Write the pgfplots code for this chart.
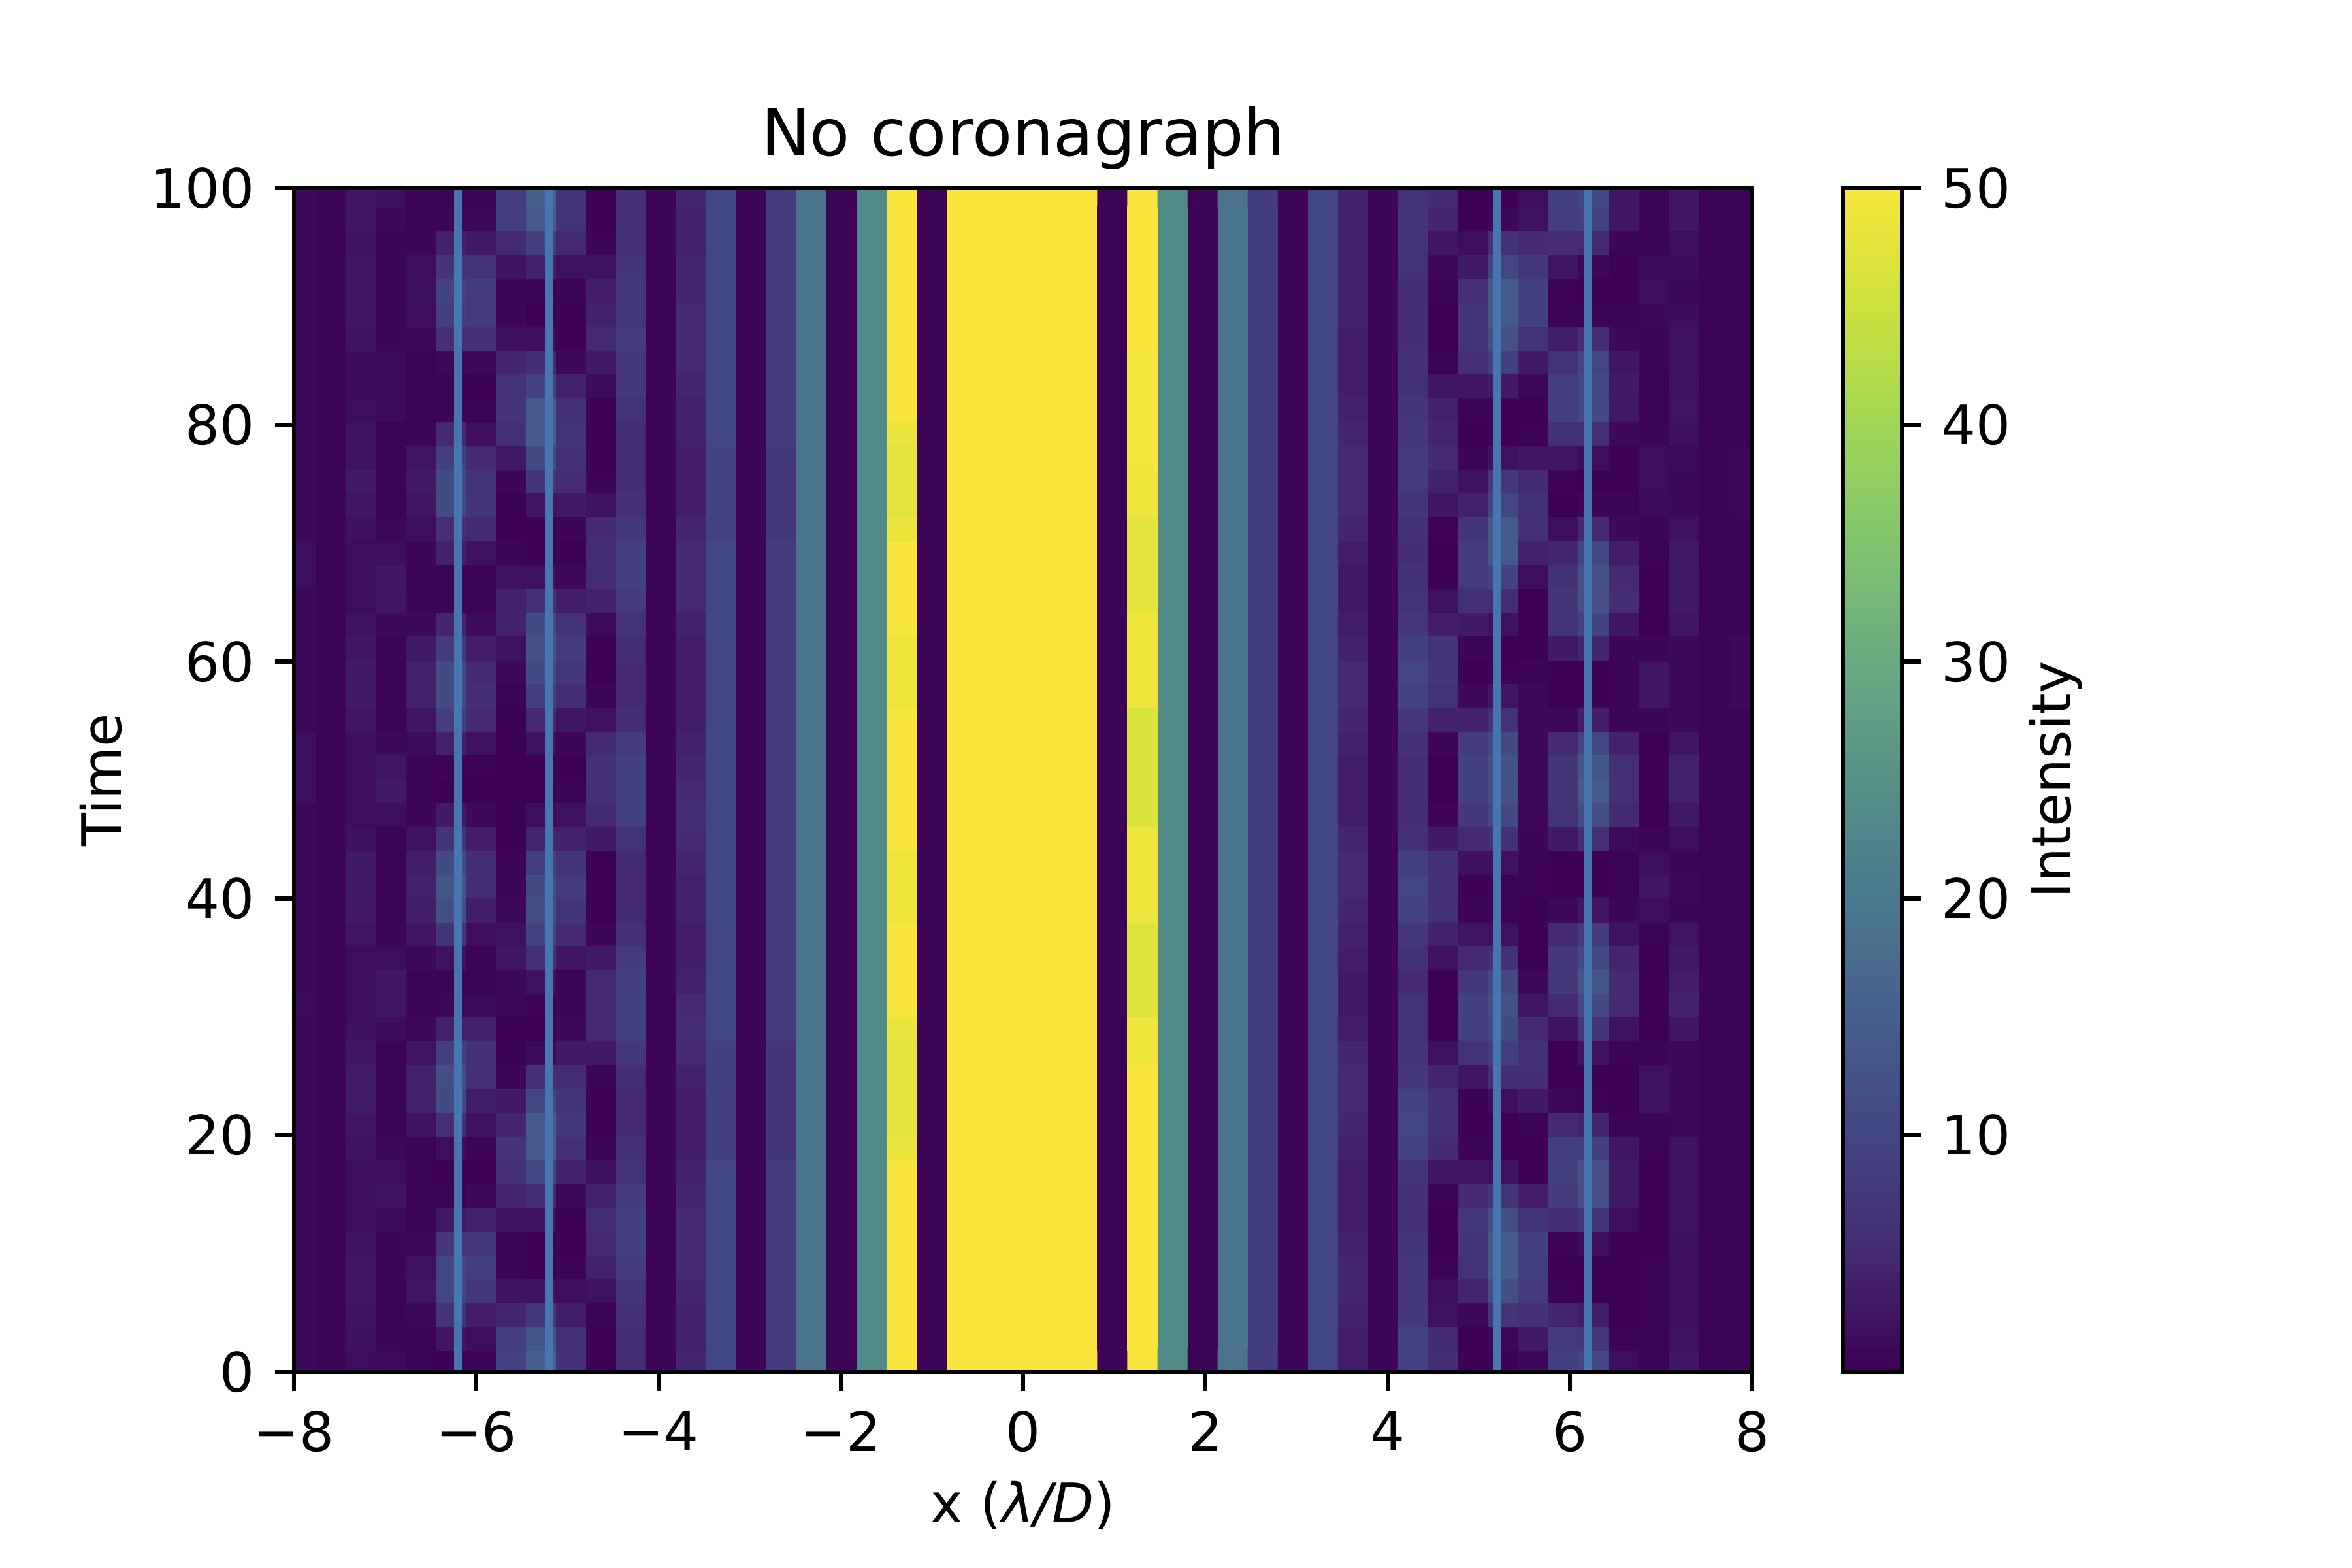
\documentclass[border=0pt]{standalone}
\usepackage{fontspec}
\setmainfont{DejaVu Sans}
\usepackage{pgfplots}
\usepackage{pgfplotstable}
\pgfplotsset{compat=1.18}
% one line per image column (x = k*0.33, k=-24..24); values top row to bottom row
\pgfplotstableread[header=false]{
1 1 1 1 1 1 1 1 1 1  1 1 1 1 1 1.5 1.5 1 1 1  1 1 1 1.7 1.7 1.7 1 1 1 1  1 1 1 1 1.2 1 1 1 1 1  1 1 1 1 1 1 1 1 1 1
.4 .4 .4 .4 .4 .4 .4 .4 .4 .4  .4 .4 .4 .4 .4 .4 .4 .4 .4 .4  .4 .4 .4 .4 .4 .4 .4 .4 .4 .4  .4 .4 .4 .4 .4 .4 .4 .4 .4 .4  .4 .4 .4 .4 .4 .4 .4 .4 .4 .4
2.5 2.5 2 2.5 2.5 2.5 2 1.3 1.3 1.5  2 2 3 2.5 1.8 1.5 1.5 1.5 2 2.5  3 3 2.3 1.5 1.5 1.5 1.5 1.8 3 3  2.8 2.3 1.5 1.5 1.5 1.8 2.5 3.2 3.2 2.3  2 1.5 1.5 1.5 2 2.3 2.3 2 1.8 1.5
1.8 1 .7 .7 .7 .7 .7 1.3 1.3 1.2  .4 .4 .4 .4 .8 1.5 2.5 2.5 1 .4  .4 .4 .4 1 2.5 3 1.5 .5 .3 .3  .3 .7 1.5 2.5 2.5 1.3 .4 .4 .4 .4  1 1.5 2 1.2 .6 .6 .5 .5 .6 1.2
.3 .3 .6 1.5 1.8 1.5 .8 .3 .3 .3  .6 2.3 3 2.5 1.5 .6 .3 .5 1 3  4 4 2.5 1.2 .4 .4 .6 2 3.5 4  3.8 2.5 1 .5 .5 .8 2.3 4 4 2  .5 .3 .4 .4 .8 2 2.3 1 .5 .3
.3 .7 4 7 9.5 9 6 .8 .3 .5  5 9 11 11 6 4 .3 .5 4.5 8  11 11 9 4 .4 .2 3 7 11 13  11.5 7 2 .4 .8 4 8.5 11.5 11 6  1.5 .2 .3 3 7.5 10 10 7 2.5 .2
.4 1 3 6.5 8 8 6 1 .2 .3  1.5 5 6.5 7 5 2 .3 .3 1.3 3.5  5 5.5 5 2 .3 .2 1 3.5 5.5 5.5  3.5 1.5 .5 .3 1.2 4 6 6 3.5 2  .4 .2 .8 4 7.5 8.5 7.5 3.5 1.5 .3
8.5 8.5 5 2 .6 .6 1.7 4.5 6.5 7  6 3 .6 .2 .2 .5 2 4 4 2  .8 .3 .2 .2 .1 .1 .2 .2 .3 .6  1 2 2.5 1 .8 .2 .2 .6 3 4.5  7 6 4.5 2 .4 .4 2 4.5 8.5 9.5
15 14 9 4 .4 .1 1.5 5.5 9.5 14  14.5 11 7 2.5 .2 .2 2 6 11 12  11 8.5 5 2 .2 .1 1.5 4.5 8.5 11  11.5 9.5 6 2 .4 .2 1.2 6 10 14  14 10 5.5 2 .2 .2 2 7.5 13 15
6.5 6.5 5 2 .5 .1 .1 1 4 6  6.5 6 5.5 3 .5 .2 .8 3.5 6.5 8  7.5 5.5 2.5 .4 .1 .3 2 4 7 8  7 5 2.5 .4 .6 1 3 5.5 7 7.5  6 4 1 .2 .2 .4 1.5 3.5 6 6
.2 .2 .5 2 3.5 4 5 3 1.2 .2  .1 .2 .5 2 5 5.5 5.5 4 1.2 .1  .1 .4 2 5 6 6 5 3 .2 .1  .1 .6 3 5 5 5 3 .4 .1 .1  .5 1.8 4 5.5 5 4 2 .3 .1 .1
6 6 6 7 7.5 7.5 8 7.5 7.5 6.5  5.5 5.5 5.5 6 7.5 8.5 8.5 8 6.5 5.5  5 5 5.5 8 9 9 9 6.5 5 5  5 6 8 8.5 9 9 7.5 5.5 5 5  6 6.5 8 8.5 8.5 8 7 6 5.5 5.5
.5 .5 .5 .5 .5 .5 .5 .5 .5 .5  .5 .5 .5 .5 .5 .5 .5 .5 .5 .5  .5 .5 .5 .5 .5 .5 .5 .5 .5 .5  .5 .5 .5 .5 .5 .5 .5 .5 .5 .5  .5 .5 .5 .5 .5 .5 .5 .5 .5 .5
4.5 4 4 4.5 4.5 5 5 5 4.5 4  4 3.5 3.5 3.5 4.5 5 5 5 4 3.5  3.5 3.5 3.5 4 4.5 5 5.5 5 4.5 4  4 3.5 3.5 4 5 5.5 5 4 3.5 3.5  3.5 4 4.5 5 5 5 4.5 4 4 4.5
10 10 10 10 10 10 10 10 10 10  10 9.5 9.5 9.5 9.5 10 10 10 10 10  10 10 10 10 10 10 10 10 10 10  10 10 10 10 10 10 9 9 9 9  9 10 10 10 10 10 10 10 10 10
.7 .7 .7 .7 .7 .7 .7 .7 .7 .7  .7 .7 .7 .7 .7 .7 .7 .7 .7 .7  .7 .7 .7 .7 .7 .7 .7 .7 .7 .7  .7 .7 .7 .7 .7 .7 .7 .7 .7 .7  .7 .7 .7 .7 .7 .7 .7 .7 .7 .7
8 8 8 8 8 8 8 8 8 8  8 7.5 7.5 7.5 7.5 8 8 8 8 8  8 8 8 8 8 8 8 8 8 8  8 8 8 8 8 8 7 7 7 7  7 8 8 8 8 8 8 8 8 8
19 19 19 19 19 19 19 19 19 19  19 19 19 19 19 19 19 19 19 19  19 19 19 19 19 19 19 19 19 19  19 19 19 19 19 19 19 19 19 19  19 19 19 19 19 19 19 19 19 19
.5 .5 .5 .5 .5 .5 .5 .5 .5 .5  .5 .5 .5 .5 .5 .5 .5 .5 .5 .5  .5 .5 .5 .5 .5 .5 .5 .5 .5 .5  .5 .5 .5 .5 .5 .5 .5 .5 .5 .5  .5 .5 .5 .5 .5 .5 .5 .5 .5 .5
23.5 23.5 23.5 23.5 23.5 23.5 23.5 23.5 23.5 23.5  23.5 23.5 23.5 23.5 23.5 23.5 23.5 23.5 23.5 23.5  23.5 23.5 23.5 23.5 23.5 23.5 23.5 23.5 23.5 23.5  23.5 23.5 23.5 23.5 23.5 23.5 23.5 23.5 23.5 23.5  23.5 23.5 23.5 23.5 23.5 23.5 23.5 23.5 23.5 23.5
50 50 50 50 50 50 50 50 50 50  48.5 47.5 47.5 47.5 48.5 50 50 50 50 49  49 49 50 50 50 50 50 50 49 49  49 50 50 50 50 48.5 47.5 47.5 47.5 47.5  48.5 50 50 50 50 50 50 50 50 50
.3 .3 .3 .3 .3 .3 .3 .3 .3 .3  .3 .3 .3 .3 .3 .3 .3 .3 .3 .3  .3 .3 .3 .3 .3 .3 .3 .3 .3 .3  .3 .3 .3 .3 .3 .3 .3 .3 .3 .3  .3 .3 .3 .3 .3 .3 .3 .3 .3 .3
50 50 50 50 50 50 50 50 50 50  50 50 50 50 50 50 50 50 50 50  50 50 50 50 50 50 50 50 50 50  50 50 50 50 50 50 50 50 50 50  50 50 50 50 50 50 50 50 50 50
50 50 50 50 50 50 50 50 50 50  50 50 50 50 50 50 50 50 50 50  50 50 50 50 50 50 50 50 50 50  50 50 50 50 50 50 50 50 50 50  50 50 50 50 50 50 50 50 50 50
50 50 50 50 50 50 50 50 50 50  50 50 50 50 50 50 50 50 50 50  50 50 50 50 50 50 50 50 50 50  50 50 50 50 50 50 50 50 50 50  50 50 50 50 50 50 50 50 50 50
50 50 50 50 50 50 50 50 50 50  50 50 50 50 50 50 50 50 50 50  50 50 50 50 50 50 50 50 50 50  50 50 50 50 50 50 50 50 50 50  50 50 50 50 50 50 50 50 50 50
50 50 50 50 50 50 50 50 50 50  50 50 50 50 50 50 50 50 50 50  50 50 50 50 50 50 50 50 50 50  50 50 50 50 50 50 50 50 50 50  50 50 50 50 50 50 50 50 50 50
.3 .3 .3 .3 .3 .3 .3 .3 .3 .3  .3 .3 .3 .3 .3 .3 .3 .3 .3 .3  .3 .3 .3 .3 .3 .3 .3 .3 .3 .3  .3 .3 .3 .3 .3 .3 .3 .3 .3 .3  .3 .3 .3 .3 .3 .3 .3 .3 .3 .3
50 50 50 50 50 50 50 49.5 49.5 49.5  49.5 49.5 49 49 47.5 47.5 47.5 47.5 49 49  49 49 46.5 46.5 46.5 46.5 46.5 49 49 49  49 47 47 47 47 49 49 50 50 50  50 50 50 50 50 50 50 50 50 50
23.5 23.5 23.5 23.5 23.5 23.5 23.5 23.5 23.5 23.5  23.5 23.5 23.5 23.5 23.5 23.5 23.5 23.5 23.5 23.5  23.5 23.5 23.5 23.5 23.5 23.5 23.5 23.5 23.5 23.5  23.5 23.5 23.5 23.5 23.5 23.5 23.5 23.5 23.5 23.5  23.5 23.5 23.5 23.5 23.5 23.5 23.5 23.5 23.5 23.5
.5 .5 .5 .5 .5 .5 .5 .5 .5 .5  .5 .5 .5 .5 .5 .5 .5 .5 .5 .5  .5 .5 .5 .5 .5 .5 .5 .5 .5 .5  .5 .5 .5 .5 .5 .5 .5 .5 .5 .5  .5 .5 .5 .5 .5 .5 .5 .5 .5 .5
19 19 19 19 19 19 19 19 19 19  19 19 19 19 19 19 19 19 19 19  19 19 19 19 19 19 19 19 19 19  19 19 19 19 19 19 19 19 19 19  19 19 19 19 19 19 19 19 19 19
8 8 8 8 8 8 8 8 8 8  8 8 8 8 8 8 8 8 8 8  8 8 8 8 8 8 8 8 8 8  8 8 8 8 8 8 8 8 8 8  8 8 8 8 8 8 8 8 8 8
.7 .7 .7 .7 .7 .7 .7 .7 .7 .7  .7 .7 .7 .7 .7 .7 .7 .7 .7 .7  .7 .7 .7 .7 .7 .7 .7 .7 .7 .7  .7 .7 .7 .7 .7 .7 .7 .7 .7 .7  .7 .7 .7 .7 .7 .7 .7 .7 .7 .7
10 10 10 10 10 10 10 10 10 10  10 10 10 10 10 10 10 10 10 10  10 10 10 10 10 10 10 10 10 10  10 10 10 10 10 10 10 10 10 10  10 10 10 10 10 10 10 10 10 10
4 4 4 4 4 4 3.5 3.5 3.5 4  4.5 5 5 5 4.5 3.5 3 3 3.5 4  5 5 4.5 4 3.5 3.5 3.5 4.5 5 5  4.5 4 3.5 3 3 3.5 4.5 5 5 4.5  4 3.5 3.5 3.5 4 4.5 4.5 4 3.5 3.5
.7 .7 .7 .7 .7 .7 .7 .7 .7 .7  .7 .7 .7 .7 .7 .7 .7 .7 .7 .7  .7 .7 .7 .7 .7 .7 .7 .7 .7 .7  .7 .7 .7 .7 .7 .7 .7 .7 .7 .7  .7 .7 .7 .7 .7 .7 .7 .7 .7 .7
6.5 7 7 6.5 5.5 5.5 5.5 6 6 7  7.5 8 8 7 6 5.5 6 6.5 7.5 9  10 9.5 7.5 6 5.5 5.5 5.5 6 9 10  9.5 7.5 6 5 6.5 6.5 7 7.5 9.5 10  9.5 7 6 6 7 7.5 7.5 7.5 9.5 9.5
5 4.5 2.5 .8 .3 .1 .1 .5 2.5 4  4.5 5 4 2.5 .3 .1 .1 2 3.5 6.5  7 6.5 4 .6 .1 .1 .6 3 6 6  6 4 2 .2 .1 .2 2 4.5 6 6  5 2.5 .3 .1 .1 .3 1.5 2 5 5.5
.2 .2 1.5 3 6 7 7 6 2.5 .3  .2 .3 2 4 7 8 8 6 3 .5  .1 1 4 8 9 9 7.5 5 1.8 .1  .4 2.5 5 7.5 9 8.5 6.5 2.5 .2 .1  .3 2.5 5 7.5 7 6.5 4.5 1 .1 .1
.1 1 6 10 14 14 12 9 3 .2  .1 2 7.5 10 14 14 9.5 5.5 2 .1  .3 2.5 6.5 10.5 12.5 12 10.5 6 2 .3  .3 2 6 10.5 12 11 8.5 5.5 1.5 .1  .1 2 7 11.5 14.5 14.5 11.5 7 .8 .1
1.5 2 5 7.5 9 9 6.5 3 .8 .2  .5 2.5 5 6 6 4 1.5 .1 .1 .1  .4 1 1 1 1 1 .8 .6 .5 .4  .1 .1 .1 1 2.5 5 6 5.5 3 .5  .1 .1 3.5 6.5 9 9 8 6 3 1
9 8.5 5.5 2.5 .3 .4 3.5 6.5 8.5 8.5  6 2.5 .3 .2 1.5 4.5 6 7 7 3  .2 .1 .8 5 7 7 6.5 3 .1 .1  1 5 7.5 7.5 5 2 .1 .1 .8 5  8.5 9 8 5.5 .5 .1 .5 4.5 8 9
10.5 9.5 5 1 .1 .5 5.5 10 11 11  6 1.5 .1 .7 5 10 12 12 9.5 4.5  .1 .1 3.5 10 13 14 11.5 6 .2 .1  2.5 8 11 13 10.5 7 2 .1 .5 4.5  9 12 12 7 1.5 .1 .2 3.5 7.5 10
2.5 2.5 .7 .2 .2 .4 1 2.5 3 2.8  1 .2 .1 .4 1 3.5 5 5.5 2.5 .7  .4 .4 .7 4 6 6 5 1.2 .3 .3  .7 2 4.5 5 5 2 .5 .2 .2 .5  2.5 3 3 1.5 .2 .1 .1 .2 .5 1.5
.5 .5 .5 1.2 1.5 1 .6 .4 .3 .3  .7 1.5 1.5 1.3 .7 .3 .2 .1 .2 .7  2.5 2.5 .7 .1 .1 .1 .1 .4 1.5 2.5  1.5 .3 .1 .1 .1 .2 .4 2 2 .5  .3 .2 .1 .2 .2 .5 .5 .4 .3 .3
2.5 2.5 1.5 1.3 1 1.3 2 2 2.2 2.3  1.8 1.2 1 1 2 2.8 3 3 2.5 1  .8 .8 1 2.5 4 4 3 1.5 .7 .8  .7 2.3 3 3.5 4 2.5 1 1 .8 .8  2 2 2 2 1.8 1.5 1.5 1.5 2 2.5
.3 .3 .3 .3 .3 .3 .3 .3 .3 .3  .3 .3 .3 .3 .3 .3 .3 .3 .3 .3  .3 .3 .3 .3 .3 .3 .3 .3 .3 .3  .3 .3 .3 .3 .3 .3 .3 .3 .3 .3  .3 .3 .3 .3 .3 .3 .3 .3 .3 .3
.5 .5 .5 .5 .5 .5 .5 .5 .5 .5  .5 .8 .8 .8 .5 .5 .5 .5 .5 1  1 1 .5 .5 .5 .5 .5 .5 .5 .5  .5 .5 .5 .5 .5 .5 .5 .5 .5 .5  .5 .5 .5 .5 .5 .5 .5 .5 .5 .5
}\cellstable
\gdef\cells{}
\pgfplotsforeachungrouped \L in {0,...,48}{%
  \pgfmathsetmacro\X{(\L-24)*0.33}%
  \pgfplotsforeachungrouped \R in {49,48,...,0}{%
    \pgfmathsetmacro\Y{99.45-2.012*\R}%
    \pgfplotstablegetelem{\L}{[index]\R}\of\cellstable
    \xdef\cells{\cells (\X,\Y) [\pgfplotsretval] }%
  }%
}
\pgfplotsset{
  colormap={coro}{[5pt]
    rgb255(0pt)=(61,0,85) rgb255(5pt)=(64,22,98) rgb255(10pt)=(68,42,112)
    rgb255(15pt)=(68,56,122) rgb255(20pt)=(66,70,130) rgb255(30pt)=(70,95,140)
    rgb255(40pt)=(75,120,142) rgb255(50pt)=(85,145,135) rgb255(60pt)=(105,170,130)
    rgb255(70pt)=(130,195,110) rgb255(80pt)=(160,215,85) rgb255(90pt)=(205,225,60)
    rgb255(100pt)=(248,230,60)},
}
\definecolor{lineblue}{RGB}{70,117,175}
\newcommand{\tenpt}{\fontsize{10.04pt}{12pt}\selectfont}
\begin{document}
\begin{tikzpicture}
\path[use as bounding box] (-0.75in,-0.5in) rectangle (5.25in,3.5in);
\begin{axis}[
  at={(0,0)}, anchor=south west,
  scale only axis, width=3.72in, height=3.02in,
  xmin=-8, xmax=8, ymin=0, ymax=100,
  axis on top,
  colormap name=coro,
  point meta min=0, point meta max=50,
  xtick={-8,-6,...,8}, xticklabels={−8,−6,−4,−2,0,2,4,6,8},
  ytick={0,20,...,100}, yticklabels={0,20,40,60,80,100},
  xtick pos=bottom, ytick pos=left,
  tick align=outside, major tick length=3.5bp,
  axis line style={line width=0.8bp},
  tick style={line width=0.8bp, black},
  xticklabel style={font=\tenpt, inner sep=0pt, yshift=-3.5bp},
  yticklabel style={font=\tenpt, inner sep=0pt, xshift=-3.5bp},
  title={No coronagraph},
  title style={font=\fontsize{12.05pt}{14pt}\selectfont, at={(0.5,1)}, anchor=base, inner sep=0pt, yshift=0bp},
  xlabel={x ({\itshape λ/D})},
  xlabel style={font=\tenpt, at={(0.5,0)}, anchor=base, inner sep=0pt, yshift=-27.6bp},
  ylabel={Time},
  ylabel style={font=\tenpt, at={(0,0.5)}, anchor=base, inner sep=0pt, rotate=0, yshift=31.7bp},
  colorbar,
  colorbar style={
    at={(parent axis.south east)}, anchor=south west, xshift=0.1135in,
    width=0.151in, height=3.02in,
    ymin=0, ymax=50,
    ytick={10,20,...,50}, yticklabels={10,20,30,40,50},
    ytick pos=right, yticklabel pos=right,
    xtick=\empty,
    tick align=outside, major tick length=3.5bp,
    axis line style={line width=0.8bp},
    tick style={line width=0.8bp, black},
    yticklabel style={font=\tenpt, inner sep=0pt, xshift=3.5bp},
    ylabel={Intensity},
    ylabel style={font=\tenpt, at={(1,0.5)}, anchor=base, inner sep=0pt, rotate=0, yshift=-31bp},
  },
]
\edef\temp{\noexpand\addplot[matrix plot*, mesh/ordering=y varies, mesh/rows=50, mesh/cols=49, point meta=explicit] coordinates {\cells};}
\temp
\addplot[lineblue, line width=1.5bp] coordinates {(-6.2,0) (-6.2,100)};
\addplot[lineblue, line width=1.5bp] coordinates {(-5.2,0) (-5.2,100)};
\addplot[lineblue, line width=1.5bp] coordinates {(5.2,0) (5.2,100)};
\addplot[lineblue, line width=1.5bp] coordinates {(6.2,0) (6.2,100)};
\end{axis}
\end{tikzpicture}
\end{document}
